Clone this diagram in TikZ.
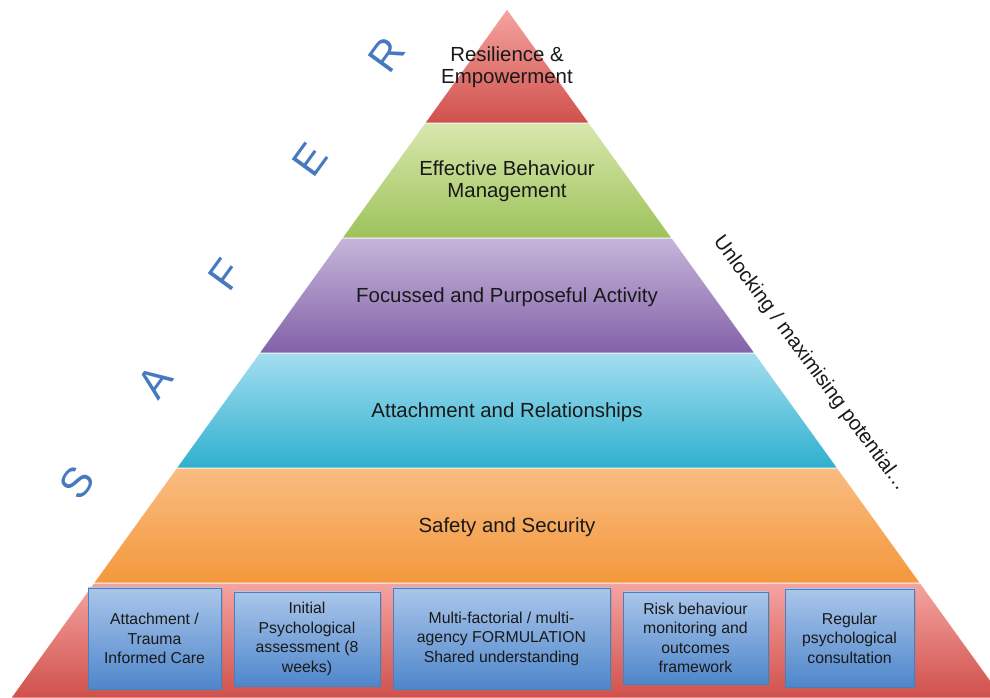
\documentclass[tikz,border=0pt]{standalone}
\usepackage{fontspec}
\setmainfont{Liberation Sans}
\usetikzlibrary{shadows}
\definecolor{redtop}{HTML}{F5A4A1}
\definecolor{redbot}{HTML}{D0504B}
\definecolor{greentop}{HTML}{D9E7AE}
\definecolor{greenbot}{HTML}{9DC35A}
\definecolor{purpletop}{HTML}{C6B5DA}
\definecolor{purplebot}{HTML}{8262A8}
\definecolor{cyantop}{HTML}{A4DEF0}
\definecolor{cyanbot}{HTML}{2FB0CE}
\definecolor{orangetop}{HTML}{F9BC82}
\definecolor{orangebot}{HTML}{F4983B}
\definecolor{boxtop}{HTML}{AAC6EA}
\definecolor{boxbot}{HTML}{4E86CB}
\definecolor{boxedge}{HTML}{4A7EBF}
\definecolor{saferblue}{HTML}{4679BF}
\begin{document}
\begin{tikzpicture}[x=1pt,y=1pt,
  tier/.style={draw=white, line width=0.7pt},
  tierlabel/.style={font=\fontsize{20.4}{22.5}\selectfont, text=black!90, align=center},
  infobox/.style={draw=boxedge, line width=0.8pt, top color=boxtop, bottom color=boxbot,
    align=center, font=\fontsize{15.8}{19.5}\selectfont, text=black!90, inner sep=0pt,
    drop shadow={opacity=0.3, shadow xshift=1.5pt, shadow yshift=-2pt}},
  saferletter/.style={font=\fontsize{42}{42}\selectfont, text=saferblue, rotate=54},
]
\useasboundingbox (0,0) rectangle (990,698);

% pyramid tiers, base to apex
\begin{scope}
\clip (0,0) rectangle (990,698);
\shade[tier, top color=redtop, bottom color=redbot]
  (93.7,115) -- (920.3,115) -- (1003.1,0) -- (10.9,0) -- cycle;
\shade[tier, top color=orangetop, bottom color=orangebot]
  (176.5,230) -- (837.5,230) -- (920.3,115) -- (93.7,115) -- cycle;
\shade[tier, top color=cyantop, bottom color=cyanbot]
  (259.3,345) -- (754.7,345) -- (837.5,230) -- (176.5,230) -- cycle;
\shade[tier, top color=purpletop, bottom color=purplebot]
  (342.1,460) -- (671.9,460) -- (754.7,345) -- (259.3,345) -- cycle;
\shade[tier, top color=greentop, bottom color=greenbot]
  (424.9,575) -- (589.1,575) -- (671.9,460) -- (342.1,460) -- cycle;
\shade[tier, top color=redtop, bottom color=redbot]
  (507,689) -- (589.1,575) -- (424.9,575) -- cycle;
\end{scope}

% tier labels
\node[tierlabel] (resilience) at (507,631) {Resilience \&\\Empowerment};
\node[tierlabel] (behaviour) at (507,517) {Effective Behaviour\\Management};
\node[tierlabel] (activity) at (507,401) {Focussed and Purposeful Activity};
\node[tierlabel] (attachment) at (507,286) {Attachment and Relationships};
\node[tierlabel] (safety) at (507,171) {Safety and Security};

% foundation boxes
\node[infobox, minimum width=133, minimum height=101] (care) at (154.5,59.5)
  {Attachment /\\Trauma\\Informed Care};
\node[infobox, minimum width=146, minimum height=94] (assess) at (307,59)
  {Initial\\Psychological\\assessment (8\\weeks)};
\node[infobox, minimum width=217, minimum height=101] (formulation) at (501.5,59.5)
  {Multi-factorial / multi-\\agency FORMULATION\\Shared understanding};
\node[infobox, minimum width=145, minimum height=92] (risk) at (695.5,60)
  {Risk behaviour\\monitoring and\\outcomes\\framework};
\node[infobox, minimum width=129, minimum height=98] (consult) at (849.5,60)
  {Regular\\psychological\\consultation};

% SAFER along the left flank
\node[saferletter] (s) at (77,215) {S};
\node[saferletter] (a) at (155,316) {A};
\node[saferletter] (f) at (225,423) {F};
\node[saferletter] (e) at (310,538) {E};
\node[saferletter] (r) at (387,643) {R};

% caption along the right flank
\node[font=\fontsize{20.4}{22}\selectfont, text=black!90, rotate=-53.5] (potential) at (810,334)
  {Unlocking / maximising potential…};
\end{tikzpicture}
\end{document}
